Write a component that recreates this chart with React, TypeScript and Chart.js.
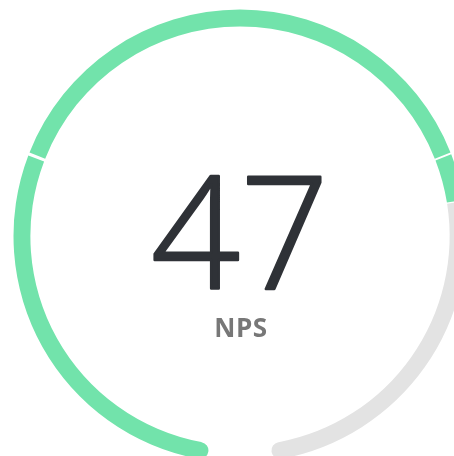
import React, { useEffect, useRef } from "react";
import { Chart, registerables } from "chart.js";

Chart.register(...registerables);

// NPS scale -100..100 split into zones; the score fills the green part
const zoneLabels = ["-100 to -40", "-40 to 40", "40 to 47", "47 to 100"];
const zoneValues = [60, 80, 7, 53];
const zoneColors = ["#72E3AB", "#72E3AB", "#72E3AB", "#E3E3E3"];
const scoreText = "47";
const scoreLabel = "NPS";

const centerText = {
  id: "centerText",
  afterDraw(chart: any) {
    const meta = chart.getDatasetMeta(0);
    const arc = meta.data[0];
    if (!arc) return;
    const cx = arc.x;
    const cy = arc.y;
    const ctx = chart.ctx;
    ctx.save();
    ctx.textAlign = "center";
    ctx.textBaseline = "alphabetic";
    ctx.fillStyle = "#2F3237";
    ctx.strokeStyle = "#2F3237";
    ctx.lineWidth = 2.5;
    ctx.lineJoin = "round";
    ctx.font = "300 156px 'Open Sans', Lato, sans-serif";
    ctx.fillText(scoreText, cx, cy + 53);
    ctx.strokeText(scoreText, cx, cy + 53);
    ctx.fillStyle = "#777777";
    ctx.font = "700 26px 'Open Sans', Lato, sans-serif";
    try { (ctx as any).letterSpacing = "0.5px"; } catch (e) {}
    ctx.fillText(scoreLabel, cx + 1, cy + 101);
    ctx.restore();
  },
};

export default function App() {
  const ref = useRef<HTMLCanvasElement | null>(null);
  useEffect(() => {
    if (!ref.current) return;
    const last = zoneValues.length - 1;
    const chart = new Chart(ref.current, {
      type: "doughnut",
      data: {
        labels: zoneLabels,
        datasets: [
          {
            data: zoneValues,
            backgroundColor: zoneColors,
            borderWidth: 0,
            spacing: 3,
            borderRadius: (c: any) => {
              if (c.dataIndex === 0) return { outerStart: 9, innerStart: 9, outerEnd: 0, innerEnd: 0 };
              if (c.dataIndex === last) return { outerStart: 0, innerStart: 0, outerEnd: 9, innerEnd: 9 };
              return 0;
            },
          } as any,
        ],
      },
      options: {
        responsive: false,
        animation: false,
        rotation: 188,
        circumference: 344,
        radius: 225,
        cutout: "92.5%",
        layout: { padding: 0 },
        plugins: { legend: { display: false }, tooltip: { enabled: false } },
      } as any,
      plugins: [centerText],
    });
    return () => chart.destroy();
  }, []);
  return (
    <div style={{ position: "fixed", inset: 0, overflow: "hidden", background: "#fff" }}>
      <canvas ref={ref} width={480} height={470} style={{ position: "absolute", left: 0, top: 0 }} />
    </div>
  );
}
